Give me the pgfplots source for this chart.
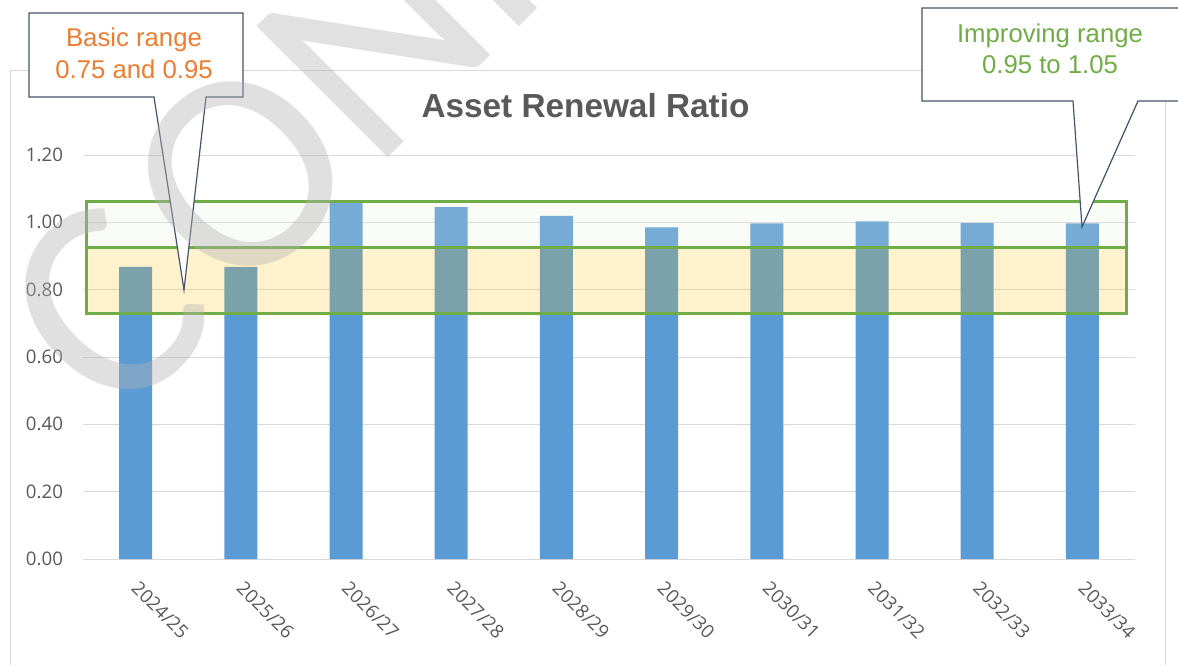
\documentclass[border=0pt]{standalone}
\usepackage{pgfplots}
\pgfplotsset{compat=1.18}
\usepackage{fontspec}
\setmainfont{Liberation Sans}
\newfontfamily\tickfont{Open Sans}
\newfontfamily\wmfont{Carlito}
\definecolor{barblue}{HTML}{5B9BD5}
\definecolor{gridgrey}{HTML}{D9D9D9}
\definecolor{txtgrey}{HTML}{595959}
\definecolor{rgreen}{HTML}{70AD47}
\definecolor{rgold}{HTML}{FFC000}
\definecolor{rlgreen}{HTML}{E2EFDA}
\definecolor{callborder}{HTML}{44546A}
\definecolor{callorange}{HTML}{ED7D31}
\definecolor{wmgrey}{RGB}{179,179,179}
\begin{document}
\begin{tikzpicture}[x=0.75pt,y=-0.75pt]
\useasboundingbox (0,0) rectangle (1178,664);
\begin{scope}
\clip (0,0) rectangle (1178,664);
\draw[gridgrey, line width=0.75pt] (10,70) rectangle (1165,720);
\fill[white] (11,71) rectangle (1164,719);
\end{scope}
\begin{axis}[
  at={(62.25pt,-419.25pt)}, anchor=south west,
  scale only axis, width=789pt, height=303pt,
  xmin=-0.5, xmax=9.5, ymin=0, ymax=1.2,
  ytick={0,0.2,0.4,0.6,0.8,1.0,1.2},
  xtick=data,
  xticklabels={2024/25,2025/26,2026/27,2027/28,2028/29,2029/30,2030/31,2031/32,2032/33,2033/34},
  axis line style={draw=none},
  major tick length=0pt,
  ymajorgrids, grid style={gridgrey, line width=0.75pt},
  /pgf/number format/fixed, /pgf/number format/fixed zerofill, /pgf/number format/precision=2,
  /pgf/number format/assume math mode=true,
  yticklabel style={font=\tickfont\fontsize{14}{16}\selectfont, text=txtgrey, anchor=east, xshift=-11.5pt},
  xticklabel style={font=\tickfont\fontsize{14}{16}\selectfont, text=txtgrey, rotate=-45, anchor=north west, xshift=10.1pt, yshift=-5.4pt},
  clip=false,
]
\draw[gridgrey, line width=0.75pt] (axis cs:-0.5,0) -- (axis cs:9.5,0);
\addplot[ybar, bar width=24.75pt, fill=barblue, draw=none] coordinates {
(0,0.868) (1,0.868) (2,1.063) (3,1.045) (4,1.019) (5,0.985) (6,0.997) (7,1.003) (8,0.998) (9,0.997)};
\draw[fill=rlgreen, fill opacity=0.2, draw=rgreen, line width=2.2pt] (axis cs:-0.47,0.925) rectangle (axis cs:9.42,1.062);
\draw[fill=rgold, fill opacity=0.2, draw=rgreen, line width=2.2pt] (axis cs:-0.47,0.73) rectangle (axis cs:9.42,0.925);
\end{axis}
\node[font=\bfseries\fontsize{25}{30}\selectfont, text=txtgrey] at (585.5,106) {Asset Renewal Ratio};
\begin{scope}
\clip (0,0) rectangle (1178,664);
\draw[callborder, fill=white, line width=0.9pt, line join=miter] (29,13) -- (243,13) -- (243,97) -- (206,97) -- (184,290) -- (154,97) -- (29,97) -- cycle;
\draw[callborder, fill=white, line width=0.9pt, line join=miter] (922,8) -- (1200,8) -- (1200,101) -- (1138,101) -- (1082,227) -- (1073,101) -- (922,101) -- cycle;
\node[anchor=base, text=callorange, font=\fontsize{19.3}{23}\selectfont, inner sep=0pt] at (134,46) {Basic range};
\node[anchor=base, text=callorange, font=\fontsize{19.3}{23}\selectfont, inner sep=0pt] at (134,78) {0.75 and 0.95};
\node[anchor=base, text=rgreen, font=\fontsize{19.3}{23}\selectfont, inner sep=0pt] at (1050,42) {Improving range};
\node[anchor=base, text=rgreen, font=\fontsize{19.3}{23}\selectfont, inner sep=0pt] at (1050,73) {0.95 to 1.05};
\node[anchor=base west, rotate=45, inner sep=0pt, text=wmgrey, text opacity=0.4, font=\wmfont\fontsize{217}{217}\selectfont] at (117,429) {C\kern13pt ONFIDENTIAL};
\end{scope}
\end{tikzpicture}
\end{document}
